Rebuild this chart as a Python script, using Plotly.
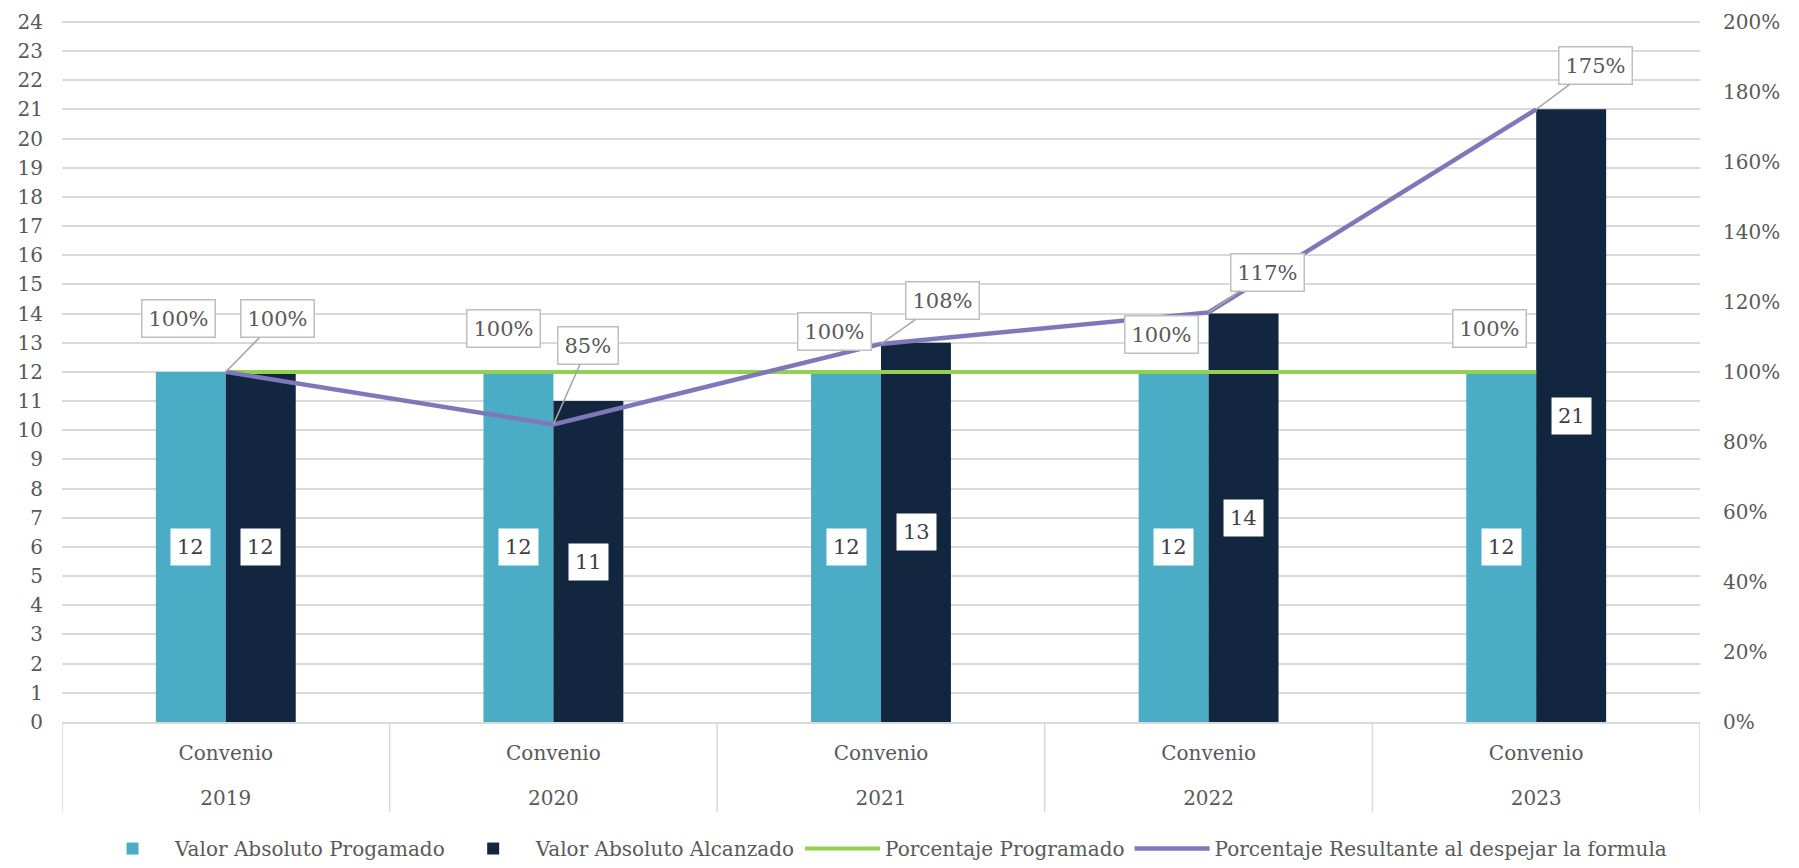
import plotly.graph_objects as go

# ---------------- data ----------------
years = ["2019", "2020", "2021", "2022", "2023"]
inner_label = ["Convenio", "Convenio", "Convenio", "Convenio", "Convenio"]
programado = [12, 12, 12, 12, 12]
alcanzado = [12, 11, 13, 14, 21]
pct_programado = [100, 100, 100, 100, 100]
pct_resultante = [100, 85, 108, 117, 175]
left_ticks = list(range(0, 25))
right_ticks = [0, 20, 40, 60, 80, 100, 120, 140, 160, 180, 200]

# ---------------- style ----------------
FONT = "DejaVu Serif"
TXT = "#595959"
GRID = "#D9D9D9"
C_PROG = "#4BACC6"
C_ALC = "#12263F"
C_GREEN = "#92D050"
C_PURPLE = "#7E78BA"
FS = 20
FS_LBL = 21

pos = list(range(len(years)))  # category positions on the axis

fig = go.Figure()

fig.add_trace(go.Bar(x=pos, y=programado, name="Valor Absoluto Progamado",
                     marker=dict(color=C_PROG, line=dict(width=0))))
fig.add_trace(go.Bar(x=pos, y=alcanzado, name="Valor Absoluto Alcanzado",
                     marker=dict(color=C_ALC, line=dict(width=0))))
fig.add_trace(go.Scatter(x=pos, y=[v / 100 for v in pct_programado], yaxis="y2",
                         mode="lines", name="Porcentaje Programado",
                         line=dict(color=C_GREEN, width=4)))
fig.add_trace(go.Scatter(x=pos, y=[v / 100 for v in pct_resultante], yaxis="y2",
                         mode="lines", name="Porcentaje Resultante al despejar la formula",
                         line=dict(color=C_PURPLE, width=4.5)))
# invisible helper trace so the second-level (year) axis is drawn
fig.add_trace(go.Scatter(x=pos, y=programado, xaxis="x2",
                         mode="markers", marker=dict(opacity=0), showlegend=False,
                         hoverinfo="skip"))

annotations = []
# bar value labels (white boxes centred in bars)
for i in pos:
    for vals, shift in ((programado, -35), (alcanzado, 35)):
        annotations.append(dict(x=i, y=vals[i] / 2, xref="x", yref="y", xshift=shift,
                                text=str(vals[i]), showarrow=False,
                                font=dict(family=FONT, size=FS_LBL, color="#404040"),
                                bgcolor="white", borderpad=6))

# green line labels (offset left/up, no leader)
green_off = [(-47, 53), (-50, 43), (-47, 40), (-47, 37), (-47, 43)]
for i in pos:
    annotations.append(dict(x=i, y=pct_programado[i] / 100, xref="x", yref="y2",
                            xshift=green_off[i][0], yshift=green_off[i][1],
                            text=f"{pct_programado[i]}%", showarrow=False,
                            font=dict(family=FONT, size=FS_LBL, color=TXT),
                            bgcolor="white", bordercolor="#BFBFBF", borderwidth=1.5,
                            borderpad=6))

# purple line labels with leader lines
purple_off = [(52, -53), (35, -79), (61, -43), (59, -40), (59, -44)]
for i in pos:
    annotations.append(dict(x=i, y=pct_resultante[i] / 100, xref="x", yref="y2",
                            ax=purple_off[i][0], ay=purple_off[i][1],
                            text=f"{pct_resultante[i]}%", showarrow=True,
                            arrowhead=0, arrowwidth=1.5, arrowcolor="#A6A6A6",
                            standoff=0,
                            font=dict(family=FONT, size=FS_LBL, color=TXT),
                            bgcolor="white", bordercolor="#BFBFBF", borderwidth=1.5,
                            borderpad=6))

# category box dividers below the axis
shapes = []
for k in range(len(years) + 1):
    shapes.append(dict(type="line", xref="x", yref="paper", x0=k - 0.5, x1=k - 0.5,
                       y0=0, y1=-0.128, line=dict(color=GRID, width=1.5)))

xr = [-0.5, len(years) - 0.5]
EPS = 1.004  # tiny headroom so the top gridline is drawn
fig.update_layout(
    width=1799, height=868,
    margin=dict(l=62, r=99, t=19, b=146, autoexpand=False),
    paper_bgcolor="white", plot_bgcolor="white",
    font=dict(family=FONT, size=FS, color=TXT),
    barmode="group", bargap=0.573, bargroupgap=0,
    xaxis=dict(range=xr, tickmode="array", tickvals=pos, ticktext=inner_label,
               tickangle=0, showgrid=False, zeroline=False,
               showline=True, linecolor=GRID, linewidth=1.5,
               ticks="", ticklabelstandoff=12,
               tickfont=dict(family=FONT, size=FS, color=TXT)),
    xaxis2=dict(overlaying="x", side="bottom", anchor="y", range=xr,
                tickmode="array", tickvals=pos, ticktext=years, tickangle=0,
                showgrid=False, showline=False, zeroline=False, ticks="",
                ticklabelstandoff=62,
                tickfont=dict(family=FONT, size=FS, color=TXT)),
    yaxis=dict(range=[0, max(left_ticks) * EPS], tickmode="array", tickvals=left_ticks,
               showgrid=True, gridcolor=GRID, gridwidth=1.5, zeroline=False,
               showline=False, ticks="", ticklabelstandoff=18,
               tickfont=dict(family=FONT, size=FS, color=TXT)),
    yaxis2=dict(range=[0, max(right_ticks) / 100 * EPS], overlaying="y", side="right",
                tickmode="array",
                tickvals=[v / 100 for v in right_ticks],
                ticktext=[f"{v}%" for v in right_ticks],
                showgrid=False, zeroline=False, showline=False, ticks="",
                ticklabelstandoff=22,
                tickfont=dict(family=FONT, size=FS, color=TXT)),
    legend=dict(orientation="h", x=0.5, xanchor="center", y=-0.18, yanchor="middle",
                font=dict(family=FONT, size=FS, color=TXT), itemwidth=75,
                traceorder="normal"),
    annotations=annotations,
    shapes=shapes,
    showlegend=True,
)

fig.write_html("out.html", config={"displayModeBar": False},
               post_script="document.body.style.margin='0';"
                           "document.body.style.overflow='hidden';")
